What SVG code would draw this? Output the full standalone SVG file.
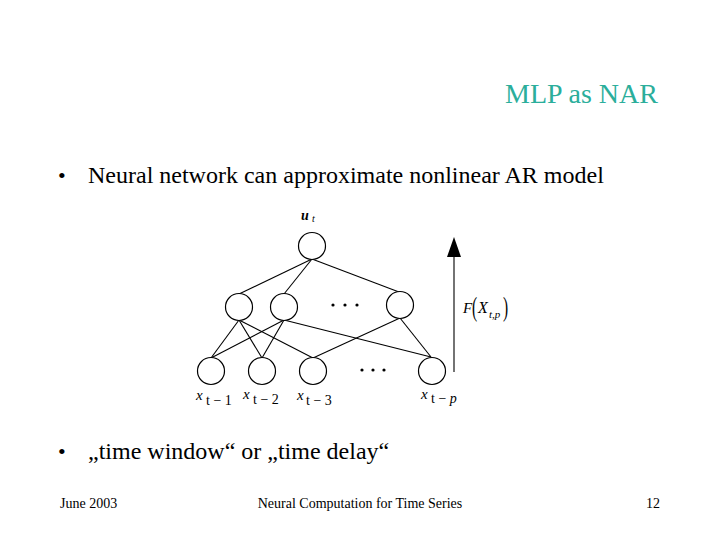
<svg xmlns="http://www.w3.org/2000/svg" width="720" height="540" viewBox="0 0 720 540">
<style>
.t{font-family:"Liberation Serif","Times New Roman",serif;fill:#000}
.node{fill:#fff;stroke:#000;stroke-width:1.2}
.edge{stroke:#000;stroke-width:1.1;fill:none}
.dot{fill:#000}
.lab{font-family:"Liberation Serif","Times New Roman",serif}
</style>
<rect width="720" height="540" fill="#fff"/>
<text class="t" x="658" y="103" font-size="28" text-anchor="end" style="fill:#2BAE9B">MLP as NAR</text>
<text class="t" x="58" y="183" font-size="22">•</text>
<text class="t" x="88" y="183" font-size="24">Neural network can approximate nonlinear AR model</text>
<g id="connectors">
<line class="edge" x1="312" y1="259" x2="239" y2="294"/>
<line class="edge" x1="312" y1="259" x2="284" y2="294"/>
<line class="edge" x1="312" y1="259" x2="399" y2="292"/>
<line class="edge" x1="239" y1="320" x2="211" y2="358"/>
<line class="edge" x1="239" y1="320" x2="262" y2="358"/>
<line class="edge" x1="239" y1="320" x2="313" y2="358"/>
<line class="edge" x1="284" y1="320" x2="211" y2="358"/>
<line class="edge" x1="284" y1="320" x2="262" y2="358"/>
<line class="edge" x1="284" y1="320" x2="431" y2="357"/>
<line class="edge" x1="400" y1="318" x2="313" y2="358"/>
<line class="edge" x1="400" y1="318" x2="431" y2="357"/>
<line class="edge" x1="454" y1="255" x2="454" y2="372"/>
<polygon points="454,237 447,257 461,257" fill="#000"/>
</g>
<g id="out"><circle class="node" cx="312" cy="246" r="13.5"/></g>
<g id="h1"><circle class="node" cx="239" cy="307" r="13.5"/></g>
<g id="h2"><circle class="node" cx="284" cy="307" r="13.5"/></g>
<g id="h3"><circle class="node" cx="400" cy="305" r="13.5"/></g>
<g id="i1"><circle class="node" cx="211" cy="371" r="13.5"/></g>
<g id="i2"><circle class="node" cx="262" cy="371" r="13.5"/></g>
<g id="i3"><circle class="node" cx="313" cy="371" r="13.5"/></g>
<g id="ip"><circle class="node" cx="432" cy="371" r="13.5"/></g>
<g id="dots">
<circle class="dot" cx="333" cy="305" r="1.6"/>
<circle class="dot" cx="345" cy="305" r="1.6"/>
<circle class="dot" cx="357" cy="305" r="1.6"/>
<circle class="dot" cx="362" cy="370" r="1.6"/>
<circle class="dot" cx="373" cy="370" r="1.6"/>
<circle class="dot" cx="384" cy="370" r="1.6"/>
</g>
<g id="labels">
<text class="lab" x="301" y="220" font-weight="bold" font-style="italic" font-size="14">u</text>
<text class="lab" x="312" y="222" font-style="italic" font-size="10">t</text>
<text class="lab" x="196" y="400" font-style="italic" font-size="15">x</text>
<text class="lab" x="206" y="405" font-size="14">t − 1</text>
<text class="lab" x="243" y="399" font-style="italic" font-size="15">x</text>
<text class="lab" x="253" y="404" font-size="14">t − 2</text>
<text class="lab" x="297" y="400" font-style="italic" font-size="15">x</text>
<text class="lab" x="306" y="405" font-size="14">t − 3</text>
<text class="lab" x="421" y="399" font-style="italic" font-size="15">x</text>
<text class="lab" x="431" y="403" font-size="14">t − <tspan font-style="italic">p</tspan></text>
<text class="lab" x="463" y="313" font-style="italic" font-size="15">F</text>
<text class="lab" x="0" y="0" font-size="28" transform="translate(472 316) scale(0.55 1)">(</text>
<text class="lab" x="478" y="313" font-style="italic" font-size="16">X</text>
<text class="lab" x="489" y="318" font-style="italic" font-size="11">t,p</text>
<text class="lab" x="0" y="0" font-size="28" transform="translate(503 316) scale(0.55 1)">)</text>
</g>
<text class="t" x="58" y="459" font-size="22">•</text>
<text class="t" x="88" y="459" font-size="24">„time window“ or „time delay“</text>
<text class="t" x="60" y="508" font-size="14">June 2003</text>
<text class="t" x="360" y="508" font-size="14" text-anchor="middle">Neural Computation for Time Series</text>
<text class="t" x="660" y="508" font-size="14" text-anchor="end">12</text>
</svg>
